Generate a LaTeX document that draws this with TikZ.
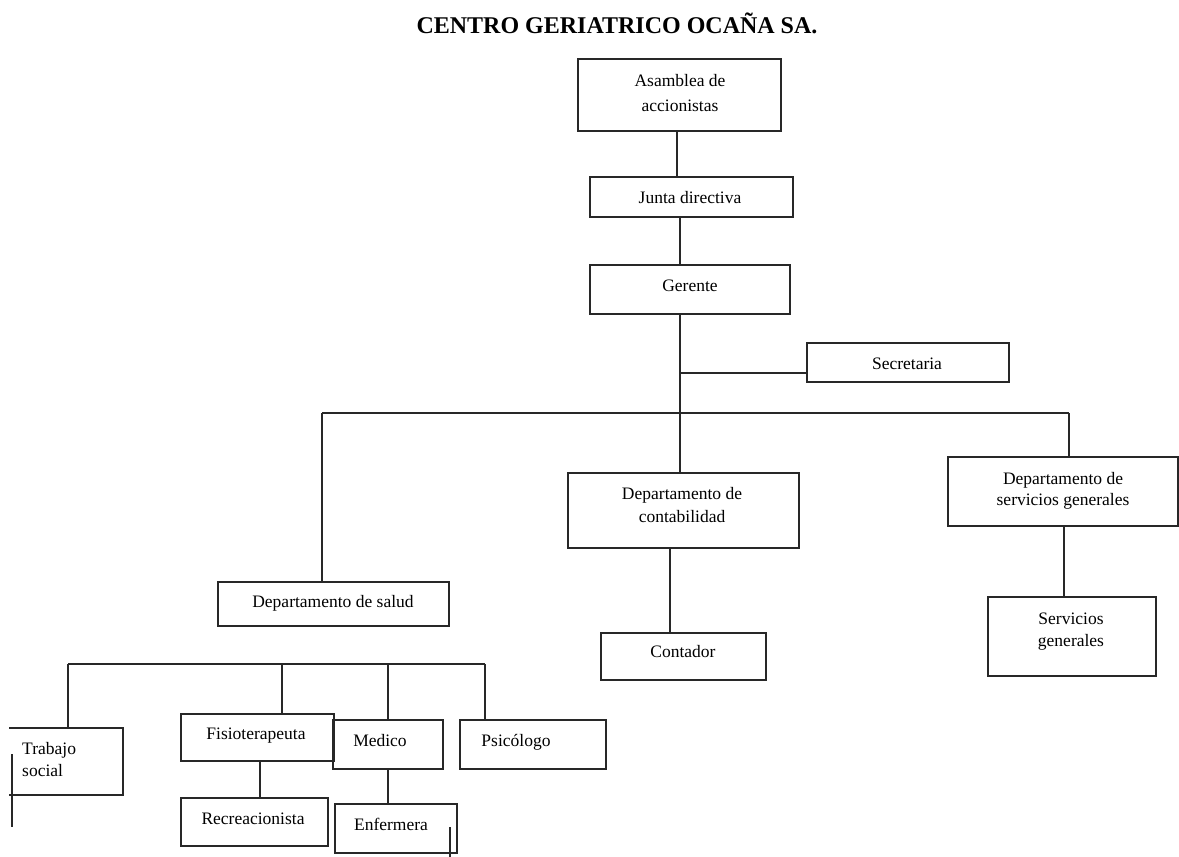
\documentclass[tikz,border=0pt]{standalone}
\usepackage{fontspec}
\setmainfont{Liberation Serif}
\definecolor{linec}{RGB}{40,40,40}
\begin{document}
\begin{tikzpicture}[x=1pt,y=-1pt,
  box/.style={draw=linec, line width=1.2pt, inner sep=0pt, outer sep=0pt, anchor=north west},
  lbl/.style={font=\fontsize{17.5}{22}\selectfont, inner sep=0pt, anchor=base, text=black},
  lblw/.style={lbl, anchor=base west},
  con/.style={draw=linec, line width=1.2pt},
  ttl/.style={font=\fontsize{24}{28}\selectfont\bfseries, inner sep=0pt, anchor=base, text=black}]
\useasboundingbox[fill=white] (0,0) rectangle (1179,857);

% title
\node[ttl] (title) at (617,33) {CENTRO GERIATRICO OCAÑA SA.};

% boxes
\node[box, minimum width=203, minimum height=72] (asam) at (578,59) {};
\node[box, minimum width=203, minimum height=40] (junta) at (590,177) {};
\node[box, minimum width=200, minimum height=49] (ger) at (590,265) {};
\node[box, minimum width=202, minimum height=39] (sec) at (807,343) {};
\node[box, minimum width=231, minimum height=75] (cont) at (568,473) {};
\node[box, minimum width=230, minimum height=69] (sdep) at (948,457) {};
\node[box, minimum width=231, minimum height=44] (salud) at (218,582) {};
\node[box, minimum width=165, minimum height=47] (ctdr) at (601,633) {};
\node[box, minimum width=168, minimum height=79] (sgen) at (988,597) {};
\node[box, draw=none, minimum width=114, minimum height=67] (trab) at (9,728) {};
\node[box, minimum width=153, minimum height=47] (fisio) at (181,714) {};
\node[box, minimum width=110, minimum height=49] (med) at (333,720) {};
\node[box, minimum width=146, minimum height=49] (psi) at (460,720) {};
\node[box, minimum width=147, minimum height=48] (recr) at (181,798) {};
\node[box, minimum width=122, minimum height=49] (enf) at (335,804) {};

% labels
\node[lbl] (asamA) at (680,86) {Asamblea de};
\node[lbl] (asamB) at (680,111) {accionistas};
\node[lbl] (juntaT) at (690,203) {Junta directiva};
\node[lbl] (gerT) at (690,291) {Gerente};
\node[lbl] (secT) at (907,369) {Secretaria};
\node[lbl] (contA) at (682,499) {Departamento de};
\node[lbl] (contB) at (682,522) {contabilidad};
\node[lbl] (sdepA) at (1063,484) {Departamento de};
\node[lbl] (sdepB) at (1063,505) {servicios generales};
\node[lbl] (saludT) at (333,607) {Departamento de salud};
\node[lbl] (ctdrT) at (683,657) {Contador};
\node[lbl] (sgenA) at (1071,624) {Servicios};
\node[lbl] (sgenB) at (1071,646) {generales};
\node[lblw] (trabA) at (22,754) {Trabajo};
\node[lblw] (trabB) at (22,776) {social};
\node[lbl] (fisioT) at (256,739) {Fisioterapeuta};
\node[lbl] (medT) at (380,746) {Medico};
\node[lbl] (psiT) at (516,746) {Psicólogo};
\node[lbl] (recrT) at (253,824) {Recreacionista};
\node[lbl] (enfT) at (391,830) {Enfermera};

% upper connectors
\coordinate (aX) at (677,0);
\coordinate (busL) at (322,413);
\coordinate (busM) at (680,413);
\coordinate (busR) at (1069,413);
\coordinate (secJ) at (680,373);
\coordinate (cX) at (670,0);
\coordinate (sX) at (1064,0);
\draw[con] (asam.south -| aX) -- (junta.north -| aX);
\draw[con] (junta.south -| busM) -- (ger.north -| busM);
\draw[con] (ger.south -| busM) -- (cont.north -| busM);
\draw[con] (secJ) -- (secJ -| sec.west);
\draw[con] (busL) -- (busR);
\draw[con] (busL) -- (busL |- salud.north);
\draw[con] (busR) -- (busR |- sdep.north);
\draw[con] (cont.south -| cX) -- (ctdr.north -| cX);
\draw[con] (sdep.south -| sX) -- (sgen.north -| sX);

% lower connectors
\coordinate (bL) at (68,664);
\coordinate (bF) at (282,664);
\coordinate (bM) at (388,664);
\coordinate (bR) at (485,664);
\coordinate (rX) at (260,0);
\draw[con] (bL) -- (bR);
\draw[con] (bL) -- (bL |- trab.north);
\draw[con] (bF) -- (bF |- fisio.north);
\draw[con] (bM) -- (bM |- med.north);
\draw[con] (bR) -- (bR |- psi.north);
\draw[con] (fisio.south -| rX) -- (recr.north -| rX);
\draw[con] (med.south -| bM) -- (enf.north -| bM);

% open box of Trabajo social and loose strokes
\draw[con] (trab.north west) -- (trab.north east) -- (trab.south east) -- (trab.south west);
\coordinate (l1a) at (12,754);
\coordinate (l1b) at (12,827);
\coordinate (l2a) at (450,827);
\coordinate (l2b) at (450,857);
\draw[con] (l1a) -- (l1b);
\draw[con] (l2a) -- (l2b);
\end{tikzpicture}
\end{document}
